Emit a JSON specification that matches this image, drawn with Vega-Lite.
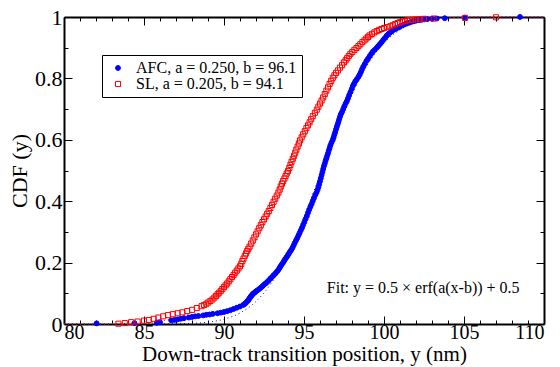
{
  "$schema": "https://vega.github.io/schema/vega-lite/v6.json",
  "width": 480,
  "height": 307,
  "autosize": {"type": "none"},
  "padding": {"left": 64, "top": 17, "right": 16, "bottom": 43},
  "background": "white",
  "config": {
    "view": {"stroke": null},
    "font": "Liberation Serif, Times New Roman, serif",
    "text": {"font": "Liberation Serif, Times New Roman, serif"},
    "axis": {"grid": false, "labelFont": "Liberation Serif, Times New Roman, serif", "titleFont": "Liberation Serif, Times New Roman, serif", "labelColor": "black", "titleColor": "black", "tickColor": "black", "domainColor": "black", "titleFontWeight": "normal", "labelFontSize": 22, "titleFontSize": 22},
    "legend": {"orient": "none", "legendX": 38, "legendY": 38, "strokeColor": "black", "fillColor": "white", "padding": 5, "labelFont": "Liberation Serif, Times New Roman, serif", "labelFontSize": 16, "labelLimit": 400, "labelColor": "black", "symbolStrokeWidth": 1, "symbolOffset": 3, "rowPadding": -3, "labelOffset": 10, "cornerRadius": 0}
  },
  "datasets": {
    "pts": [
      {"series": "AFC", "x": 82.04, "y": 0.002},
      {"series": "AFC", "x": 84.4, "y": 0.003},
      {"series": "AFC", "x": 85.8, "y": 0.004},
      {"series": "AFC", "x": 86.0, "y": 0.006},
      {"series": "AFC", "x": 86.7, "y": 0.012},
      {"series": "AFC", "x": 86.9, "y": 0.013},
      {"series": "AFC", "x": 87.1, "y": 0.015},
      {"series": "AFC", "x": 87.3, "y": 0.017},
      {"series": "AFC", "x": 87.5, "y": 0.019},
      {"series": "AFC", "x": 87.8, "y": 0.021},
      {"series": "AFC", "x": 88.0, "y": 0.023},
      {"series": "AFC", "x": 88.2, "y": 0.025},
      {"series": "AFC", "x": 88.4, "y": 0.026},
      {"series": "AFC", "x": 88.7, "y": 0.028},
      {"series": "AFC", "x": 88.9, "y": 0.030},
      {"series": "AFC", "x": 89.1, "y": 0.031},
      {"series": "AFC", "x": 89.3, "y": 0.033},
      {"series": "AFC", "x": 89.6, "y": 0.035},
      {"series": "AFC", "x": 89.8, "y": 0.037},
      {"series": "AFC", "x": 90.0, "y": 0.039},
      {"series": "AFC", "x": 90.2, "y": 0.042},
      {"series": "AFC", "x": 90.4, "y": 0.045},
      {"series": "AFC", "x": 90.6, "y": 0.049},
      {"series": "AFC", "x": 90.8, "y": 0.053},
      {"series": "AFC", "x": 91.0, "y": 0.057},
      {"series": "AFC", "x": 91.2, "y": 0.062},
      {"series": "AFC", "x": 91.28, "y": 0.065},
      {"series": "AFC", "x": 91.35, "y": 0.068},
      {"series": "AFC", "x": 91.42, "y": 0.072},
      {"series": "AFC", "x": 91.5, "y": 0.076},
      {"series": "AFC", "x": 91.55, "y": 0.080},
      {"series": "AFC", "x": 91.6, "y": 0.084},
      {"series": "AFC", "x": 91.65, "y": 0.088},
      {"series": "AFC", "x": 91.7, "y": 0.091},
      {"series": "AFC", "x": 91.75, "y": 0.094},
      {"series": "AFC", "x": 91.8, "y": 0.098},
      {"series": "AFC", "x": 91.88, "y": 0.101},
      {"series": "AFC", "x": 91.95, "y": 0.104},
      {"series": "AFC", "x": 92.02, "y": 0.107},
      {"series": "AFC", "x": 92.1, "y": 0.110},
      {"series": "AFC", "x": 92.2, "y": 0.114},
      {"series": "AFC", "x": 92.3, "y": 0.118},
      {"series": "AFC", "x": 92.4, "y": 0.123},
      {"series": "AFC", "x": 92.5, "y": 0.128},
      {"series": "AFC", "x": 92.6, "y": 0.132},
      {"series": "AFC", "x": 92.7, "y": 0.137},
      {"series": "AFC", "x": 92.8, "y": 0.142},
      {"series": "AFC", "x": 92.9, "y": 0.148},
      {"series": "AFC", "x": 93.0, "y": 0.153},
      {"series": "AFC", "x": 93.1, "y": 0.159},
      {"series": "AFC", "x": 93.2, "y": 0.164},
      {"series": "AFC", "x": 93.3, "y": 0.170},
      {"series": "AFC", "x": 93.38, "y": 0.175},
      {"series": "AFC", "x": 93.45, "y": 0.181},
      {"series": "AFC", "x": 93.52, "y": 0.187},
      {"series": "AFC", "x": 93.6, "y": 0.193},
      {"series": "AFC", "x": 93.68, "y": 0.199},
      {"series": "AFC", "x": 93.75, "y": 0.205},
      {"series": "AFC", "x": 93.82, "y": 0.211},
      {"series": "AFC", "x": 93.9, "y": 0.217},
      {"series": "AFC", "x": 93.98, "y": 0.223},
      {"series": "AFC", "x": 94.05, "y": 0.229},
      {"series": "AFC", "x": 94.12, "y": 0.235},
      {"series": "AFC", "x": 94.2, "y": 0.241},
      {"series": "AFC", "x": 94.28, "y": 0.248},
      {"series": "AFC", "x": 94.35, "y": 0.256},
      {"series": "AFC", "x": 94.42, "y": 0.264},
      {"series": "AFC", "x": 94.5, "y": 0.272},
      {"series": "AFC", "x": 94.58, "y": 0.280},
      {"series": "AFC", "x": 94.65, "y": 0.288},
      {"series": "AFC", "x": 94.72, "y": 0.296},
      {"series": "AFC", "x": 94.8, "y": 0.305},
      {"series": "AFC", "x": 94.88, "y": 0.314},
      {"series": "AFC", "x": 94.95, "y": 0.323},
      {"series": "AFC", "x": 95.02, "y": 0.332},
      {"series": "AFC", "x": 95.1, "y": 0.342},
      {"series": "AFC", "x": 95.18, "y": 0.352},
      {"series": "AFC", "x": 95.25, "y": 0.362},
      {"series": "AFC", "x": 95.32, "y": 0.372},
      {"series": "AFC", "x": 95.4, "y": 0.382},
      {"series": "AFC", "x": 95.48, "y": 0.391},
      {"series": "AFC", "x": 95.55, "y": 0.401},
      {"series": "AFC", "x": 95.62, "y": 0.410},
      {"series": "AFC", "x": 95.7, "y": 0.420},
      {"series": "AFC", "x": 95.78, "y": 0.428},
      {"series": "AFC", "x": 95.85, "y": 0.437},
      {"series": "AFC", "x": 95.9, "y": 0.446},
      {"series": "AFC", "x": 95.95, "y": 0.455},
      {"series": "AFC", "x": 96.0, "y": 0.465},
      {"series": "AFC", "x": 96.05, "y": 0.475},
      {"series": "AFC", "x": 96.1, "y": 0.485},
      {"series": "AFC", "x": 96.15, "y": 0.495},
      {"series": "AFC", "x": 96.2, "y": 0.505},
      {"series": "AFC", "x": 96.25, "y": 0.515},
      {"series": "AFC", "x": 96.3, "y": 0.523},
      {"series": "AFC", "x": 96.35, "y": 0.532},
      {"series": "AFC", "x": 96.4, "y": 0.540},
      {"series": "AFC", "x": 96.45, "y": 0.548},
      {"series": "AFC", "x": 96.5, "y": 0.556},
      {"series": "AFC", "x": 96.55, "y": 0.565},
      {"series": "AFC", "x": 96.6, "y": 0.573},
      {"series": "AFC", "x": 96.65, "y": 0.582},
      {"series": "AFC", "x": 96.72, "y": 0.591},
      {"series": "AFC", "x": 96.8, "y": 0.600},
      {"series": "AFC", "x": 96.85, "y": 0.608},
      {"series": "AFC", "x": 96.9, "y": 0.617},
      {"series": "AFC", "x": 96.95, "y": 0.625},
      {"series": "AFC", "x": 97.0, "y": 0.634},
      {"series": "AFC", "x": 97.05, "y": 0.642},
      {"series": "AFC", "x": 97.1, "y": 0.650},
      {"series": "AFC", "x": 97.15, "y": 0.658},
      {"series": "AFC", "x": 97.2, "y": 0.667},
      {"series": "AFC", "x": 97.25, "y": 0.675},
      {"series": "AFC", "x": 97.3, "y": 0.683},
      {"series": "AFC", "x": 97.38, "y": 0.691},
      {"series": "AFC", "x": 97.45, "y": 0.700},
      {"series": "AFC", "x": 97.52, "y": 0.709},
      {"series": "AFC", "x": 97.6, "y": 0.718},
      {"series": "AFC", "x": 97.68, "y": 0.726},
      {"series": "AFC", "x": 97.75, "y": 0.735},
      {"series": "AFC", "x": 97.82, "y": 0.745},
      {"series": "AFC", "x": 97.9, "y": 0.755},
      {"series": "AFC", "x": 97.98, "y": 0.765},
      {"series": "AFC", "x": 98.05, "y": 0.775},
      {"series": "AFC", "x": 98.12, "y": 0.782},
      {"series": "AFC", "x": 98.2, "y": 0.790},
      {"series": "AFC", "x": 98.3, "y": 0.797},
      {"series": "AFC", "x": 98.4, "y": 0.805},
      {"series": "AFC", "x": 98.48, "y": 0.812},
      {"series": "AFC", "x": 98.55, "y": 0.820},
      {"series": "AFC", "x": 98.62, "y": 0.829},
      {"series": "AFC", "x": 98.7, "y": 0.838},
      {"series": "AFC", "x": 98.8, "y": 0.847},
      {"series": "AFC", "x": 98.9, "y": 0.857},
      {"series": "AFC", "x": 99.0, "y": 0.864},
      {"series": "AFC", "x": 99.1, "y": 0.872},
      {"series": "AFC", "x": 99.2, "y": 0.880},
      {"series": "AFC", "x": 99.3, "y": 0.887},
      {"series": "AFC", "x": 99.42, "y": 0.893},
      {"series": "AFC", "x": 99.55, "y": 0.900},
      {"series": "AFC", "x": 99.65, "y": 0.906},
      {"series": "AFC", "x": 99.75, "y": 0.912},
      {"series": "AFC", "x": 99.85, "y": 0.918},
      {"series": "AFC", "x": 99.95, "y": 0.925},
      {"series": "AFC", "x": 100.05, "y": 0.931},
      {"series": "AFC", "x": 100.15, "y": 0.938},
      {"series": "AFC", "x": 100.25, "y": 0.943},
      {"series": "AFC", "x": 100.35, "y": 0.948},
      {"series": "AFC", "x": 100.48, "y": 0.953},
      {"series": "AFC", "x": 100.6, "y": 0.958},
      {"series": "AFC", "x": 100.72, "y": 0.961},
      {"series": "AFC", "x": 100.85, "y": 0.965},
      {"series": "AFC", "x": 100.98, "y": 0.968},
      {"series": "AFC", "x": 101.1, "y": 0.972},
      {"series": "AFC", "x": 101.25, "y": 0.975},
      {"series": "AFC", "x": 101.4, "y": 0.979},
      {"series": "AFC", "x": 101.55, "y": 0.981},
      {"series": "AFC", "x": 101.7, "y": 0.984},
      {"series": "AFC", "x": 101.85, "y": 0.986},
      {"series": "AFC", "x": 102.0, "y": 0.988},
      {"series": "AFC", "x": 102.2, "y": 0.990},
      {"series": "AFC", "x": 102.35, "y": 0.991},
      {"series": "AFC", "x": 102.5, "y": 0.992},
      {"series": "AFC", "x": 102.7, "y": 0.993},
      {"series": "AFC", "x": 103.0, "y": 0.994},
      {"series": "AFC", "x": 103.3, "y": 0.995},
      {"series": "AFC", "x": 103.8, "y": 0.996},
      {"series": "AFC", "x": 105.06, "y": 0.998},
      {"series": "AFC", "x": 108.5, "y": 1.0},
      {"series": "SL", "x": 83.4, "y": 0.001},
      {"series": "SL", "x": 83.8, "y": 0.003},
      {"series": "SL", "x": 84.2, "y": 0.006},
      {"series": "SL", "x": 84.6, "y": 0.008},
      {"series": "SL", "x": 85.0, "y": 0.011},
      {"series": "SL", "x": 85.3, "y": 0.013},
      {"series": "SL", "x": 85.6, "y": 0.017},
      {"series": "SL", "x": 85.9, "y": 0.021},
      {"series": "SL", "x": 86.2, "y": 0.025},
      {"series": "SL", "x": 86.5, "y": 0.029},
      {"series": "SL", "x": 86.8, "y": 0.032},
      {"series": "SL", "x": 87.1, "y": 0.035},
      {"series": "SL", "x": 87.4, "y": 0.038},
      {"series": "SL", "x": 87.7, "y": 0.042},
      {"series": "SL", "x": 88.0, "y": 0.046},
      {"series": "SL", "x": 88.3, "y": 0.052},
      {"series": "SL", "x": 88.6, "y": 0.058},
      {"series": "SL", "x": 88.75, "y": 0.062},
      {"series": "SL", "x": 88.9, "y": 0.066},
      {"series": "SL", "x": 89.02, "y": 0.070},
      {"series": "SL", "x": 89.15, "y": 0.075},
      {"series": "SL", "x": 89.28, "y": 0.080},
      {"series": "SL", "x": 89.4, "y": 0.086},
      {"series": "SL", "x": 89.5, "y": 0.091},
      {"series": "SL", "x": 89.6, "y": 0.097},
      {"series": "SL", "x": 89.7, "y": 0.102},
      {"series": "SL", "x": 89.8, "y": 0.108},
      {"series": "SL", "x": 89.9, "y": 0.114},
      {"series": "SL", "x": 90.0, "y": 0.120},
      {"series": "SL", "x": 90.1, "y": 0.126},
      {"series": "SL", "x": 90.2, "y": 0.132},
      {"series": "SL", "x": 90.3, "y": 0.139},
      {"series": "SL", "x": 90.4, "y": 0.146},
      {"series": "SL", "x": 90.5, "y": 0.153},
      {"series": "SL", "x": 90.6, "y": 0.160},
      {"series": "SL", "x": 90.7, "y": 0.167},
      {"series": "SL", "x": 90.8, "y": 0.174},
      {"series": "SL", "x": 90.9, "y": 0.181},
      {"series": "SL", "x": 91.0, "y": 0.188},
      {"series": "SL", "x": 91.08, "y": 0.196},
      {"series": "SL", "x": 91.15, "y": 0.205},
      {"series": "SL", "x": 91.22, "y": 0.213},
      {"series": "SL", "x": 91.3, "y": 0.222},
      {"series": "SL", "x": 91.38, "y": 0.230},
      {"series": "SL", "x": 91.45, "y": 0.238},
      {"series": "SL", "x": 91.52, "y": 0.245},
      {"series": "SL", "x": 91.6, "y": 0.252},
      {"series": "SL", "x": 91.7, "y": 0.262},
      {"series": "SL", "x": 91.8, "y": 0.272},
      {"series": "SL", "x": 91.9, "y": 0.282},
      {"series": "SL", "x": 92.0, "y": 0.292},
      {"series": "SL", "x": 92.1, "y": 0.302},
      {"series": "SL", "x": 92.2, "y": 0.312},
      {"series": "SL", "x": 92.3, "y": 0.322},
      {"series": "SL", "x": 92.4, "y": 0.332},
      {"series": "SL", "x": 92.5, "y": 0.341},
      {"series": "SL", "x": 92.6, "y": 0.350},
      {"series": "SL", "x": 92.7, "y": 0.359},
      {"series": "SL", "x": 92.8, "y": 0.368},
      {"series": "SL", "x": 92.9, "y": 0.378},
      {"series": "SL", "x": 93.0, "y": 0.388},
      {"series": "SL", "x": 93.1, "y": 0.398},
      {"series": "SL", "x": 93.2, "y": 0.408},
      {"series": "SL", "x": 93.3, "y": 0.418},
      {"series": "SL", "x": 93.4, "y": 0.428},
      {"series": "SL", "x": 93.48, "y": 0.438},
      {"series": "SL", "x": 93.55, "y": 0.448},
      {"series": "SL", "x": 93.62, "y": 0.457},
      {"series": "SL", "x": 93.7, "y": 0.466},
      {"series": "SL", "x": 93.78, "y": 0.474},
      {"series": "SL", "x": 93.85, "y": 0.482},
      {"series": "SL", "x": 93.92, "y": 0.490},
      {"series": "SL", "x": 94.0, "y": 0.498},
      {"series": "SL", "x": 94.08, "y": 0.508},
      {"series": "SL", "x": 94.15, "y": 0.518},
      {"series": "SL", "x": 94.22, "y": 0.528},
      {"series": "SL", "x": 94.3, "y": 0.538},
      {"series": "SL", "x": 94.38, "y": 0.548},
      {"series": "SL", "x": 94.45, "y": 0.558},
      {"series": "SL", "x": 94.52, "y": 0.568},
      {"series": "SL", "x": 94.6, "y": 0.578},
      {"series": "SL", "x": 94.68, "y": 0.588},
      {"series": "SL", "x": 94.75, "y": 0.598},
      {"series": "SL", "x": 94.85, "y": 0.608},
      {"series": "SL", "x": 94.95, "y": 0.618},
      {"series": "SL", "x": 95.05, "y": 0.628},
      {"series": "SL", "x": 95.15, "y": 0.638},
      {"series": "SL", "x": 95.25, "y": 0.647},
      {"series": "SL", "x": 95.35, "y": 0.657},
      {"series": "SL", "x": 95.45, "y": 0.667},
      {"series": "SL", "x": 95.55, "y": 0.677},
      {"series": "SL", "x": 95.68, "y": 0.688},
      {"series": "SL", "x": 95.8, "y": 0.698},
      {"series": "SL", "x": 95.9, "y": 0.708},
      {"series": "SL", "x": 96.0, "y": 0.718},
      {"series": "SL", "x": 96.1, "y": 0.728},
      {"series": "SL", "x": 96.2, "y": 0.738},
      {"series": "SL", "x": 96.3, "y": 0.749},
      {"series": "SL", "x": 96.4, "y": 0.760},
      {"series": "SL", "x": 96.5, "y": 0.771},
      {"series": "SL", "x": 96.6, "y": 0.782},
      {"series": "SL", "x": 96.7, "y": 0.792},
      {"series": "SL", "x": 96.8, "y": 0.802},
      {"series": "SL", "x": 96.9, "y": 0.810},
      {"series": "SL", "x": 97.0, "y": 0.818},
      {"series": "SL", "x": 97.12, "y": 0.826},
      {"series": "SL", "x": 97.25, "y": 0.835},
      {"series": "SL", "x": 97.38, "y": 0.843},
      {"series": "SL", "x": 97.5, "y": 0.852},
      {"series": "SL", "x": 97.6, "y": 0.859},
      {"series": "SL", "x": 97.7, "y": 0.866},
      {"series": "SL", "x": 97.8, "y": 0.873},
      {"series": "SL", "x": 97.9, "y": 0.880},
      {"series": "SL", "x": 98.02, "y": 0.886},
      {"series": "SL", "x": 98.15, "y": 0.893},
      {"series": "SL", "x": 98.28, "y": 0.899},
      {"series": "SL", "x": 98.4, "y": 0.905},
      {"series": "SL", "x": 98.52, "y": 0.911},
      {"series": "SL", "x": 98.65, "y": 0.918},
      {"series": "SL", "x": 98.78, "y": 0.924},
      {"series": "SL", "x": 98.9, "y": 0.930},
      {"series": "SL", "x": 99.0, "y": 0.935},
      {"series": "SL", "x": 99.1, "y": 0.940},
      {"series": "SL", "x": 99.25, "y": 0.945},
      {"series": "SL", "x": 99.4, "y": 0.950},
      {"series": "SL", "x": 99.55, "y": 0.954},
      {"series": "SL", "x": 99.7, "y": 0.958},
      {"series": "SL", "x": 99.85, "y": 0.961},
      {"series": "SL", "x": 100.0, "y": 0.964},
      {"series": "SL", "x": 100.2, "y": 0.967},
      {"series": "SL", "x": 100.4, "y": 0.970},
      {"series": "SL", "x": 100.55, "y": 0.973},
      {"series": "SL", "x": 100.7, "y": 0.977},
      {"series": "SL", "x": 100.85, "y": 0.980},
      {"series": "SL", "x": 101.0, "y": 0.983},
      {"series": "SL", "x": 101.15, "y": 0.985},
      {"series": "SL", "x": 101.3, "y": 0.987},
      {"series": "SL", "x": 101.45, "y": 0.989},
      {"series": "SL", "x": 101.6, "y": 0.990},
      {"series": "SL", "x": 101.8, "y": 0.991},
      {"series": "SL", "x": 102.0, "y": 0.992},
      {"series": "SL", "x": 102.25, "y": 0.993},
      {"series": "SL", "x": 102.5, "y": 0.994},
      {"series": "SL", "x": 103.1, "y": 0.995},
      {"series": "SL", "x": 105.06, "y": 0.997},
      {"series": "SL", "x": 107.0, "y": 0.999}
    ],
    "fitAFC": [
      {"x": 80, "y": 0}, {"x": 84.1, "y": 0.00001}, {"x": 86.1, "y": 0.0002}, {"x": 88.1, "y": 0.0024},
      {"x": 89.1, "y": 0.0067}, {"x": 90.1, "y": 0.017}, {"x": 91.1, "y": 0.0386}, {"x": 92.1, "y": 0.0787},
      {"x": 93.1, "y": 0.1444}, {"x": 94.1, "y": 0.2398}, {"x": 95.1, "y": 0.3619}, {"x": 96.1, "y": 0.5},
      {"x": 97.1, "y": 0.6381}, {"x": 98.1, "y": 0.7602}, {"x": 99.1, "y": 0.8556}, {"x": 100.1, "y": 0.9214},
      {"x": 101.1, "y": 0.9615}, {"x": 102.1, "y": 0.9831}, {"x": 103.1, "y": 0.9934}, {"x": 104.1, "y": 0.9977},
      {"x": 106.1, "y": 0.9998}, {"x": 108.1, "y": 1.0}, {"x": 110, "y": 1.0}
    ],
    "fitSL": [
      {"x": 80, "y": 0.00002}, {"x": 81.9, "y": 0.0002}, {"x": 84.34, "y": 0.0024}, {"x": 85.56, "y": 0.0067},
      {"x": 86.78, "y": 0.017}, {"x": 88.0, "y": 0.0386}, {"x": 89.22, "y": 0.0787}, {"x": 90.44, "y": 0.1444},
      {"x": 91.66, "y": 0.2398}, {"x": 92.88, "y": 0.3619}, {"x": 94.1, "y": 0.5}, {"x": 95.32, "y": 0.6381},
      {"x": 96.54, "y": 0.7602}, {"x": 97.76, "y": 0.8556}, {"x": 98.98, "y": 0.9214}, {"x": 100.2, "y": 0.9615},
      {"x": 101.42, "y": 0.9831}, {"x": 102.64, "y": 0.9934}, {"x": 103.86, "y": 0.9977}, {"x": 106.3, "y": 0.9998},
      {"x": 110, "y": 1.0}
    ],
    "note": [
      {"x": 102.45, "y": 0.117, "t": "Fit: y = 0.5 × erf(a(x-b)) + 0.5"}
    ]
  },
  "layer": [
    {
      "mark": {"type": "rule", "color": "#666666", "strokeWidth": 1, "strokeDash": [1, 2]},
      "encoding": {"y": {"datum": 0.5, "type": "quantitative", "axis": null}}
    },
    {
      "data": {"name": "fitAFC"},
      "mark": {"type": "line", "color": "#0000ff", "strokeWidth": 1, "strokeDash": [1, 3], "interpolate": "monotone"},
      "encoding": {
        "x": {"field": "x", "type": "quantitative", "scale": {"domain": [80, 110], "nice": false, "zero": false},
          "axis": {"orient": "top", "values": [80, 85, 90, 95, 100, 105, 110], "labels": false, "title": null, "tickSize": -8, "tickWidth": 1, "domain": true, "domainWidth": 2}},
        "y": {"field": "y", "type": "quantitative", "scale": {"domain": [0, 1], "nice": false, "zero": false},
          "axis": {"orient": "right", "values": [0, 0.2, 0.4, 0.6, 0.8, 1], "labels": false, "title": null, "tickSize": -8, "tickWidth": 1, "domain": true, "domainWidth": 2}}
      }
    },
    {
      "data": {"name": "fitSL"},
      "mark": {"type": "line", "color": "#ff0000", "strokeWidth": 1, "strokeDash": [1, 3], "interpolate": "monotone"},
      "encoding": {
        "x": {"field": "x", "type": "quantitative",
          "axis": {"orient": "bottom", "values": [81, 82, 83, 84, 86, 87, 88, 89, 91, 92, 93, 94, 96, 97, 98, 99, 101, 102, 103, 104, 106, 107, 108, 109], "labels": false, "title": null, "tickSize": -4, "tickWidth": 1, "domain": false}},
        "y": {"field": "y", "type": "quantitative",
          "axis": {"orient": "left", "values": [0.1, 0.3, 0.5, 0.7, 0.9], "labels": false, "title": null, "tickSize": -4, "tickWidth": 1, "domain": false}}
      }
    },
    {
      "data": {"name": "pts"},
      "mark": {"type": "point", "strokeWidth": 1, "opacity": 1},
      "encoding": {
        "x": {"field": "x", "type": "quantitative",
          "axis": {"orient": "bottom", "values": [80, 85, 90, 95, 100, 105, 110], "format": "~g", "title": "Down-track transition position, y (nm)", "labelFontSize": 20, "titleFontSize": 21, "tickSize": -8, "tickWidth": 1, "labelPadding": 6, "titlePadding": 1, "domain": true, "domainWidth": 2}},
        "y": {"field": "y", "type": "quantitative",
          "axis": {"orient": "left", "values": [0, 0.2, 0.4, 0.6, 0.8, 1], "format": "~g", "title": "CDF (y)", "tickSize": -8, "tickWidth": 1, "labelPadding": 10, "titlePadding": 3, "domain": true, "domainWidth": 2}},
        "fill": {"field": "series", "type": "nominal", "scale": {"domain": ["AFC", "SL"], "range": ["#0000ff", "transparent"]},
          "legend": {"title": null, "labelExpr": "datum.label == 'AFC' ? 'AFC, a = 0.250, b = 96.1' : 'SL, a = 0.205, b = 94.1'"}},
        "stroke": {"field": "series", "type": "nominal", "scale": {"domain": ["AFC", "SL"], "range": ["#0000ff", "#ff0000"]},
          "legend": {"title": null, "labelExpr": "datum.label == 'AFC' ? 'AFC, a = 0.250, b = 96.1' : 'SL, a = 0.205, b = 94.1'"}},
        "shape": {"field": "series", "type": "nominal", "scale": {"domain": ["AFC", "SL"], "range": ["circle", "square"]},
          "legend": {"title": null, "labelExpr": "datum.label == 'AFC' ? 'AFC, a = 0.250, b = 96.1' : 'SL, a = 0.205, b = 94.1'"}},
        "size": {"field": "series", "type": "nominal", "scale": {"domain": ["AFC", "SL"], "range": [24, 26]},
          "legend": {"title": null, "labelExpr": "datum.label == 'AFC' ? 'AFC, a = 0.250, b = 96.1' : 'SL, a = 0.205, b = 94.1'"}}
      }
    },
    {
      "data": {"name": "note"},
      "mark": {"type": "text", "font": "Liberation Serif, Times New Roman, serif", "fontSize": 16, "color": "black", "align": "center", "baseline": "middle"},
      "encoding": {
        "x": {"field": "x", "type": "quantitative",
          "axis": {"orient": "top", "values": [81, 82, 83, 84, 86, 87, 88, 89, 91, 92, 93, 94, 96, 97, 98, 99, 101, 102, 103, 104, 106, 107, 108, 109], "labels": false, "title": null, "tickSize": -4, "tickWidth": 1, "domain": false}},
        "y": {"field": "y", "type": "quantitative",
          "axis": {"orient": "right", "values": [0.1, 0.3, 0.5, 0.7, 0.9], "labels": false, "title": null, "tickSize": -4, "tickWidth": 1, "domain": false}},
        "text": {"field": "t"}
      }
    }
  ],
  "resolve": {"axis": {"x": "independent", "y": "independent"}}
}
